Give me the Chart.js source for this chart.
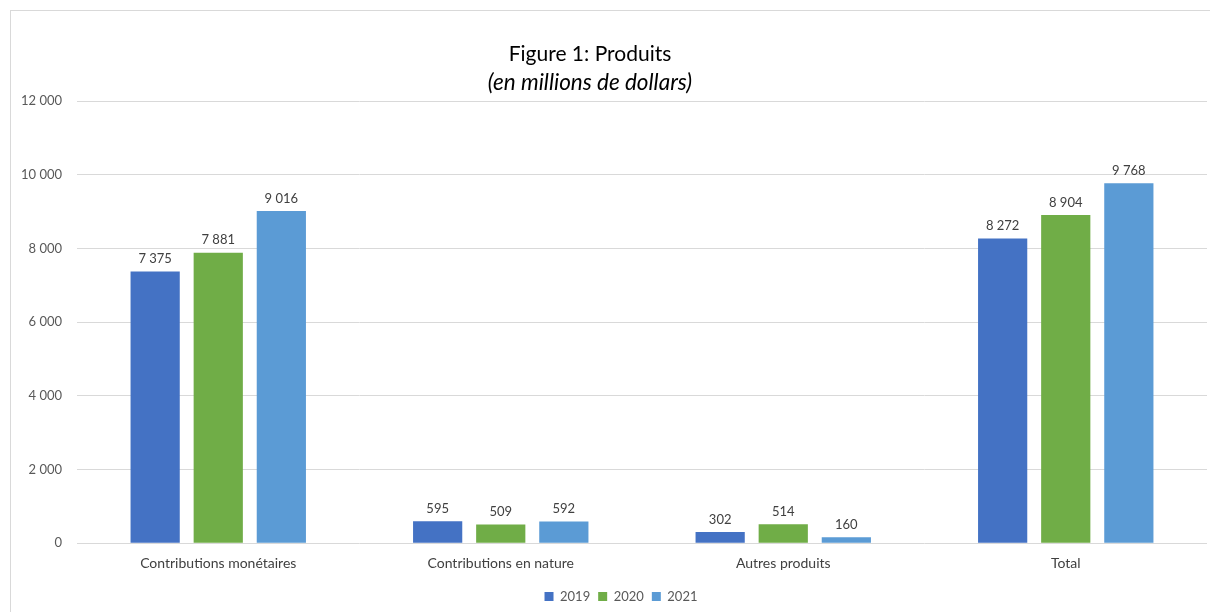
<!DOCTYPE html>
<html>
<head>
<meta charset="utf-8">
<script src="https://cdn.jsdelivr.net/npm/chart.js@4"></script>
<style>
  html, body { margin: 0; padding: 0; background: #fff; overflow: hidden; width: 1210px; height: 612px; }
  #box { position: absolute; left: 10px; top: 10px; width: 1220px; height: 610px;
         border-left: 1px solid #d9d9d9; border-top: 1px solid #d9d9d9; background: #fff; }
  #wrap { position: absolute; left: 0; top: 0; width: 1220px; height: 602px; }
</style>
</head>
<body>
<div id="box"><div id="wrap"><canvas id="c"></canvas></div></div>
<script>
const categories = ['Contributions monétaires', 'Contributions en nature', 'Autres produits', 'Total'];
const seriesNames = ['2019', '2020', '2021'];
const values2019 = [7375, 595, 302, 8272];
const values2020 = [7881, 509, 514, 8904];
const values2021 = [9016, 592, 160, 9768];
const colors = ['#4472C4', '#70AD47', '#5B9BD5'];
const titleText = 'Figure 1: Produits';
const subtitleText = '(en millions de dollars)';
const yMin = 0, yMax = 12000, yStep = 2000;

const FONT = 'Lato, "Open Sans", sans-serif';
const fmt = v => String(Math.round(v)).replace(/\B(?=(\d{3})+(?!\d))/g, ' ');

const titlePlugin = {
  id: 'titles',
  afterDraw(chart) {
    const ctx = chart.ctx;
    ctx.save();
    ctx.fillStyle = '#000000';
    ctx.textAlign = 'center';
    ctx.textBaseline = 'middle';
    const cx = 579;
    ctx.font = '21px ' + FONT;
    ctx.fillText(titleText, cx, 43);
    ctx.font = 'italic 22.5px ' + FONT;
    ctx.fillText(subtitleText, cx, 72);
    ctx.restore();
  }
};

const labelPlugin = {
  id: 'barLabels',
  afterDatasetsDraw(chart) {
    const ctx = chart.ctx;
    ctx.save();
    ctx.font = '13px ' + FONT;
    ctx.fillStyle = '#404040';
    ctx.textAlign = 'center';
    ctx.textBaseline = 'bottom';
    chart.data.datasets.forEach((ds, i) => {
      const meta = chart.getDatasetMeta(i);
      meta.data.forEach((bar, j) => {
        ctx.fillText(fmt(ds.data[j]), bar.x, bar.y - 6);
      });
    });
    ctx.restore();
  }
};

const seriesValues = [values2019, values2020, values2021];
new Chart(document.getElementById('c'), {
  type: 'bar',
  data: {
    labels: categories,
    datasets: seriesNames.map((n, i) => ({
      label: n,
      data: seriesValues[i],
      backgroundColor: colors[i],
      borderWidth: 0,
      categoryPercentage: 0.67,
      barPercentage: 0.78
    }))
  },
  options: {
    responsive: true,
    maintainAspectRatio: false,
    animation: false,
    layout: { padding: { top: 90, right: 0, left: 0, bottom: 0 } },
    plugins: {
      legend: {
        position: 'bottom',
        labels: { boxWidth: 9, boxHeight: 9, color: '#595959', font: { family: FONT, size: 13 }, padding: 8 }
      },
      tooltip: { enabled: false },
      title: { display: false }
    },
    scales: {
      x: {
        afterFit(axis) { axis.height -= 2; },
        grid: { display: false, drawTicks: false },
        border: { display: false },
        ticks: { color: '#404040', font: { family: FONT, size: 14 }, padding: 12, maxRotation: 0 }
      },
      y: {
        min: yMin, max: yMax,
        afterFit(axis) { axis.width = 66; },
        grid: { color: '#d9d9d9', drawTicks: false, lineWidth: 1 },
        border: { display: false },
        ticks: { stepSize: yStep, color: '#595959', font: { family: FONT, size: 13 }, padding: 15, callback: v => fmt(v) }
      },
      yRight: {
        position: 'right',
        min: yMin, max: yMax,
        afterFit(axis) { axis.width = 24; },
        grid: { display: false, drawTicks: false },
        border: { display: false },
        ticks: { display: false }
      }
    }
  },
  plugins: [titlePlugin, labelPlugin]
});
</script>
</body>
</html>
